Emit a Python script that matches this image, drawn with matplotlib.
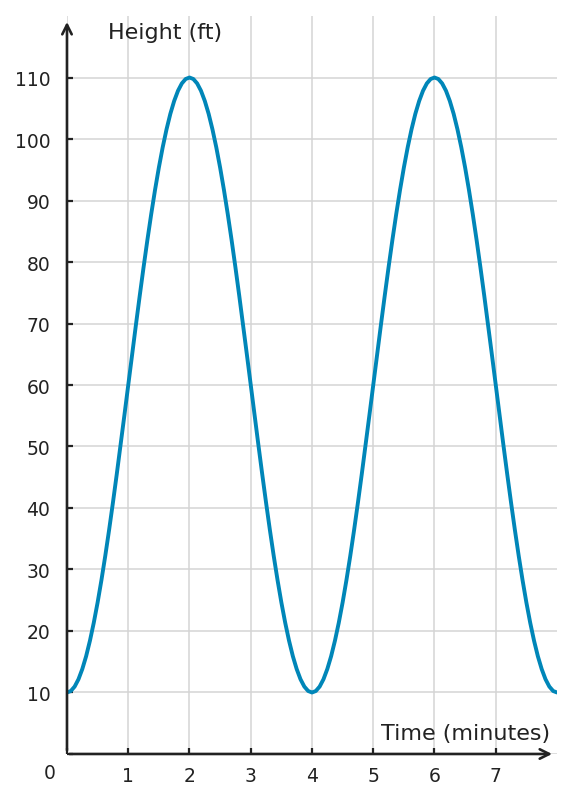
import matplotlib
matplotlib.use("Agg")
import matplotlib.pyplot as plt

# time in minutes, read every 1/16 minute
time = [i / 16 for i in range(129)]
# height (ft) (one climb from 10 to 110 ft)
rise = [10.0, 10.24, 10.96, 12.15, 13.81, 15.90, 18.43, 21.35, 24.64,
        28.28, 32.22, 36.43, 40.87, 45.49, 50.25, 55.10, 60.0,
        64.90, 69.75, 74.51, 79.13, 83.57, 87.78, 91.72, 95.36,
        98.65, 101.57, 104.10, 106.19, 107.85, 109.04, 109.76, 110.0]
fall = rise[::-1][1:]
height = rise + fall + rise[1:] + fall

x_ticks = [0, 1, 2, 3, 4, 5, 6, 7]
x_labels = ["", "1", "2", "3", "4", "5", "6", "7"]
y_ticks = [0, 10, 20, 30, 40, 50, 60, 70, 80, 90, 100, 110]
y_labels = [""] + [str(v) for v in y_ticks[1:]]

TXT = "#222222"
AX = "#222222"
GRID = "#d4d4d4"
LINE = "#0086b8"

fig = plt.figure(figsize=(5.76, 8.03), dpi=100)
ax = fig.add_axes([0.1163, 0.0598, 0.967 - 0.1163, 0.9788 - 0.0598])

ax.plot(time, height, color=LINE, lw=2.8, solid_capstyle="round", zorder=3)

ax.set_xlim(0, 8)
ax.set_ylim(0, 120)
ax.set_xticks(x_ticks)
ax.set_xticklabels(x_labels)
ax.set_yticks(y_ticks)
ax.set_yticklabels(y_labels)
ax.grid(True, color=GRID, lw=1.1, zorder=0)
ax.set_axisbelow(True)
for s in ax.spines.values():
    s.set_visible(False)
ax.tick_params(axis="both", direction="in", length=4, width=1.6, color=AX,
               labelsize=13.5, labelcolor=TXT)
ax.tick_params(axis="x", pad=9)
ax.tick_params(axis="y", pad=12)

# axis arrows
ax.annotate("", xy=(0, 0.992), xytext=(0, 0.005), xycoords="axes fraction",
            arrowprops=dict(arrowstyle="->", color=AX, lw=1.9,
                            mutation_scale=17, shrinkA=0, shrinkB=0), zorder=4)
ax.annotate("", xy=(0.99, 0), xytext=(0.005, 0), xycoords="axes fraction",
            arrowprops=dict(arrowstyle="->", color=AX, lw=1.9,
                            mutation_scale=17, shrinkA=0, shrinkB=0), zorder=4)

ax.text(0.084, 0.978, "Height (ft)", transform=ax.transAxes, fontsize=16,
        color=TXT, ha="left", va="center")
ax.text(0.985, 0.029, "Time (minutes)", transform=ax.transAxes, fontsize=16,
        color=TXT, ha="right", va="center")
ax.text(-0.035, -0.025, "0", transform=ax.transAxes, fontsize=13.5,
        color=TXT, ha="center", va="center")

fig.savefig("out.png", dpi=100)
